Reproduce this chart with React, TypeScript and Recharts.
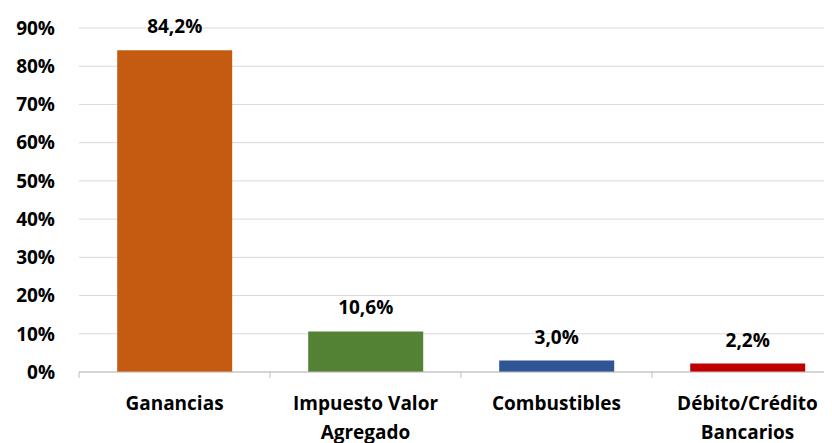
import React from 'react';
import { BarChart, Bar, XAxis, YAxis, CartesianGrid, Cell, LabelList } from 'recharts';

const categories = ['Ganancias', 'Impuesto Valor Agregado', 'Combustibles', 'Débito/Crédito Bancarios'];
const tickLines = [['Ganancias'], ['Impuesto Valor', 'Agregado'], ['Combustibles'], ['Débito/Crédito', 'Bancarios']];
const shares = [84.2, 10.6, 3.0, 2.2];
const yTicks = [0, 10, 20, 30, 40, 50, 60, 70, 80, 90];
const COLORS = ['#C55A11', '#548235', '#2F5597', '#C00000'];

const chartData = categories.map((name, i) => ({ name, value: shares[i] }));

const FONT = '"Open Sans", sans-serif';
const BAND = 191;

const CategoryTick = (props: any) => {
  const { x, y, index } = props;
  const lines = tickLines[index] || [];
  return (
    <g>
      <line x1={x - BAND / 2} y1={y} x2={x - BAND / 2} y2={y + 6} stroke="#bfbfbf" />
      {lines.map((l, i) => (
        <text
          key={i}
          x={x}
          y={y + 38 + i * 29}
          textAnchor="middle"
          fontFamily={FONT}
          fontWeight="bold"
          fontSize={19}
          fill="#000"
        >
          {l}
        </text>
      ))}
    </g>
  );
};

export default function App() {
  return (
    <div style={{ marginLeft: -8, marginTop: -8, width: 832, height: 443, overflow: 'hidden', background: '#fff' }}>
      <BarChart
        width={850}
        height={443}
        data={chartData}
        margin={{ top: 28, right: 7, bottom: 0, left: 14 }}
        barCategoryGap="20%"
      >
        <CartesianGrid vertical={false} stroke="#d9d9d9" />
        <XAxis
          dataKey="name"
          height={71}
          interval={0}
          axisLine={{ stroke: '#bfbfbf' }}
          tickLine={false}
          tickSize={0}
          tickMargin={0}
          tick={<CategoryTick />}
        />
        <YAxis
          width={65}
          domain={[0, 90]}
          ticks={yTicks}
          axisLine={false}
          tickLine={false}
          tickSize={0}
          tickMargin={24}
          tickFormatter={(v: number) => `${v}%`}
          tick={{ fontFamily: FONT, fontWeight: 'bold', fontSize: 19, fill: '#000' }}
        />
        <Bar dataKey="value" isAnimationActive={false}>
          {chartData.map((d, i) => (
            <Cell key={`cell-${i}`} fill={COLORS[i]} />
          ))}
          <LabelList
            dataKey="value"
            position="top"
            offset={17}
            formatter={(v: number) => `${v.toFixed(1).replace('.', ',')}%`}
            style={{ fontFamily: FONT, fontWeight: 'bold', fontSize: 19, fill: '#000' }}
          />
        </Bar>
      </BarChart>
    </div>
  );
}
